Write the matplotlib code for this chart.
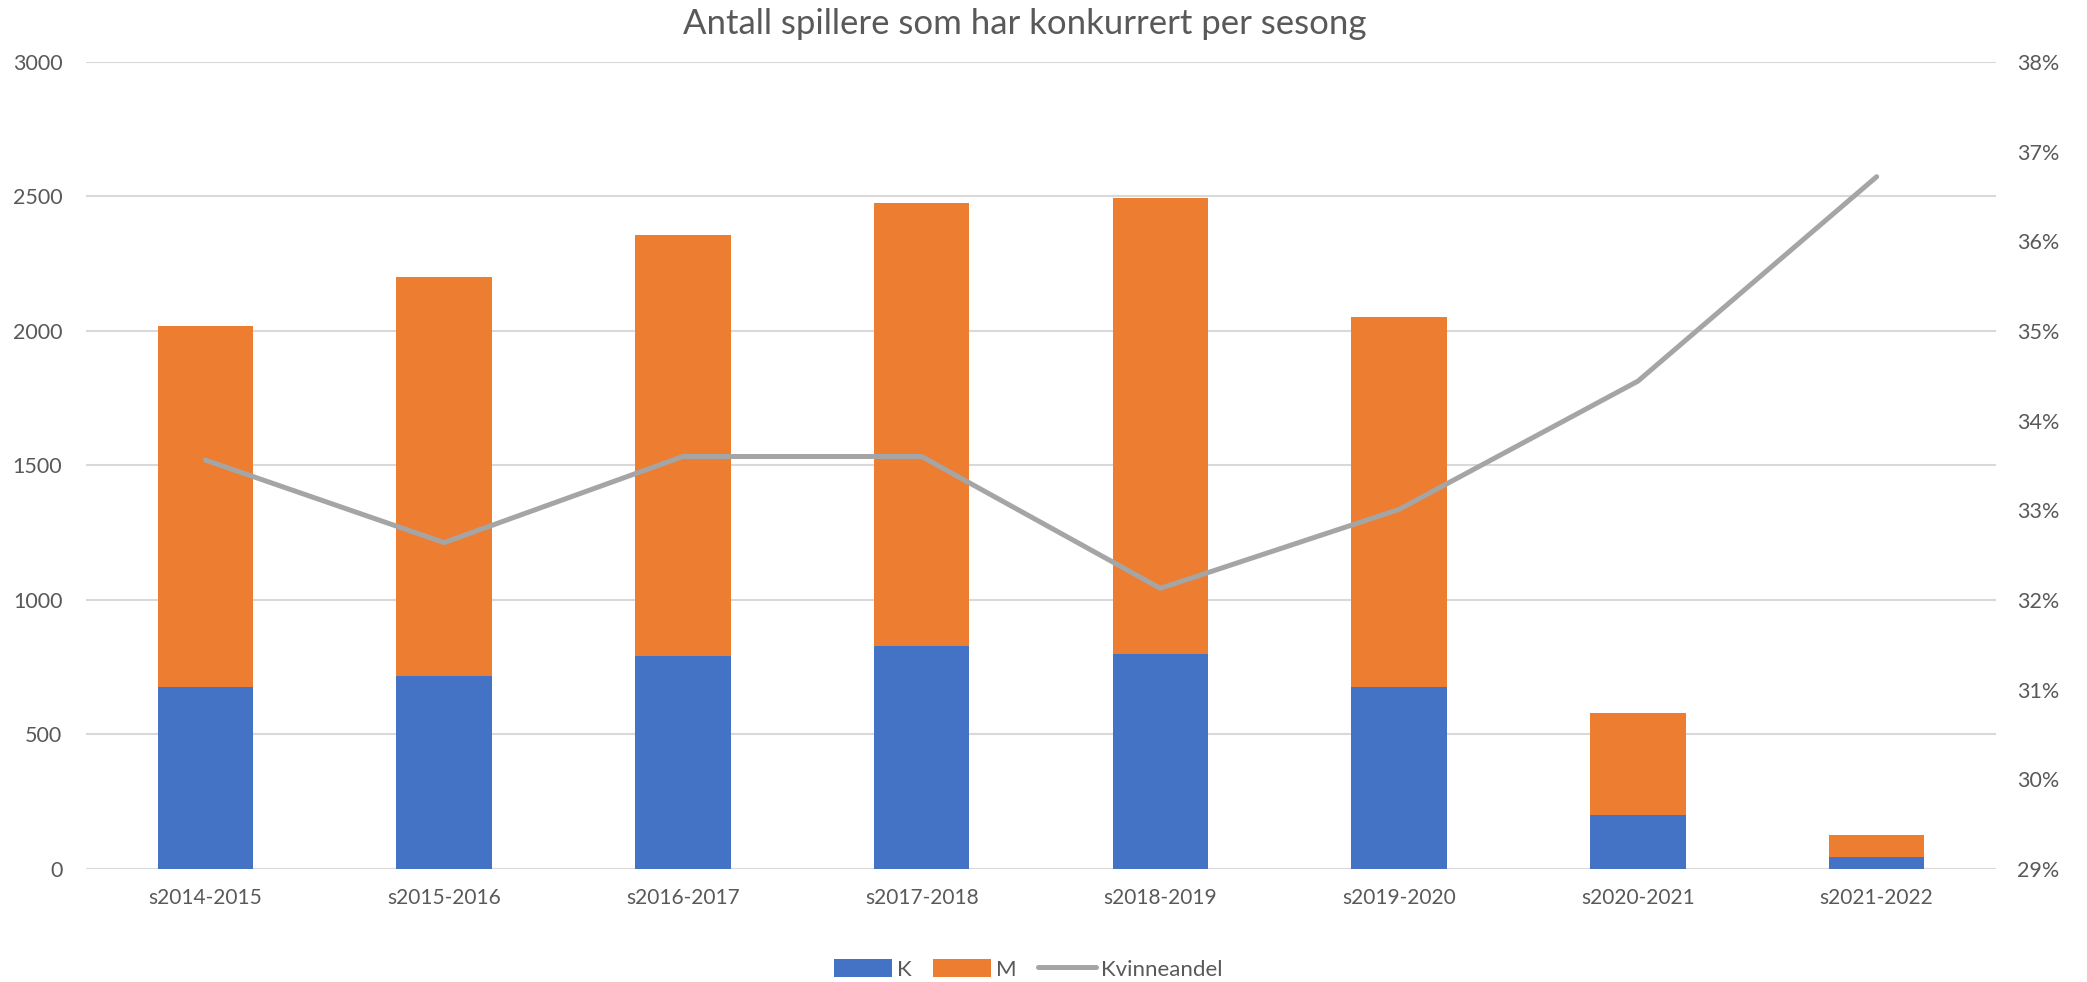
import numpy as np
import matplotlib
matplotlib.use("Agg")
import matplotlib.pyplot as plt
from matplotlib.ticker import FuncFormatter

plt.rcParams['font.family'] = ['Lato', 'DejaVu Sans']

# data
seasons = ['s2014-2015', 's2015-2016', 's2016-2017', 's2017-2018',
           's2018-2019', 's2019-2020', 's2020-2021', 's2021-2022']
k_counts = [676, 717, 791, 829, 799, 675, 199, 46]
m_counts = [1344, 1483, 1567, 1648, 1697, 1377, 382, 80]
kvinneandel = [33.56, 32.64, 33.60, 33.60, 32.13, 33.01, 34.44, 36.72]

blue = '#4472C4'
orange = '#ED7D31'
grey = '#A5A5A5'
txt = '#595959'

fig = plt.figure(figsize=(20.87, 9.82), dpi=100)
ax = fig.add_axes([0.0412, 0.1151, 0.9152, 0.8218])
ax2 = ax.twinx()

x = np.arange(len(seasons))
ax.bar(x, k_counts, width=0.40, color=blue, label='K', zorder=2)
ax.bar(x, m_counts, width=0.40, bottom=k_counts, color=orange, label='M', zorder=2)
ax2.plot(x, kvinneandel, color=grey, lw=3.6, label='Kvinneandel',
         solid_capstyle='round', zorder=3)

ax.set_xlim(-0.5, len(seasons) - 0.5)
ax.set_ylim(0, 3000)
ax.set_yticks(np.arange(0, 3001, 500))
ax.set_xticks(x)
ax.set_xticklabels(seasons)
ax.grid(axis='y', color='#D9D9D9', lw=1.5, zorder=0)
ax.set_axisbelow(True)

ax2.set_ylim(29, 38)
ax2.set_yticks(np.arange(29, 39, 1))
ax2.yaxis.set_major_formatter(FuncFormatter(lambda v, p: '%d%%' % v))

for a in (ax, ax2):
    for s in a.spines.values():
        s.set_visible(False)
    a.tick_params(length=0, colors=txt, labelsize=15)
ax.tick_params(axis='y', pad=17, labelsize=15.5)
ax.tick_params(axis='x', pad=14)
ax2.tick_params(axis='y', pad=15, labelsize=15.5)

fig.text(0.491, 0.9756, 'Antall spillere som har konkurrert per sesong',
         ha='center', va='center', fontsize=25, color=txt)

h1, l1 = ax.get_legend_handles_labels()
h2, l2 = ax2.get_legend_handles_labels()
fig.legend(h1 + h2, l1 + l2, loc='center', bbox_to_anchor=(0.4927, 0.013),
           ncol=3, frameon=False, fontsize=16, labelcolor=txt,
           handlelength=2.6, handleheight=0.9, columnspacing=1.0,
           handletextpad=0.2)

fig.savefig('out.png', dpi=100)
